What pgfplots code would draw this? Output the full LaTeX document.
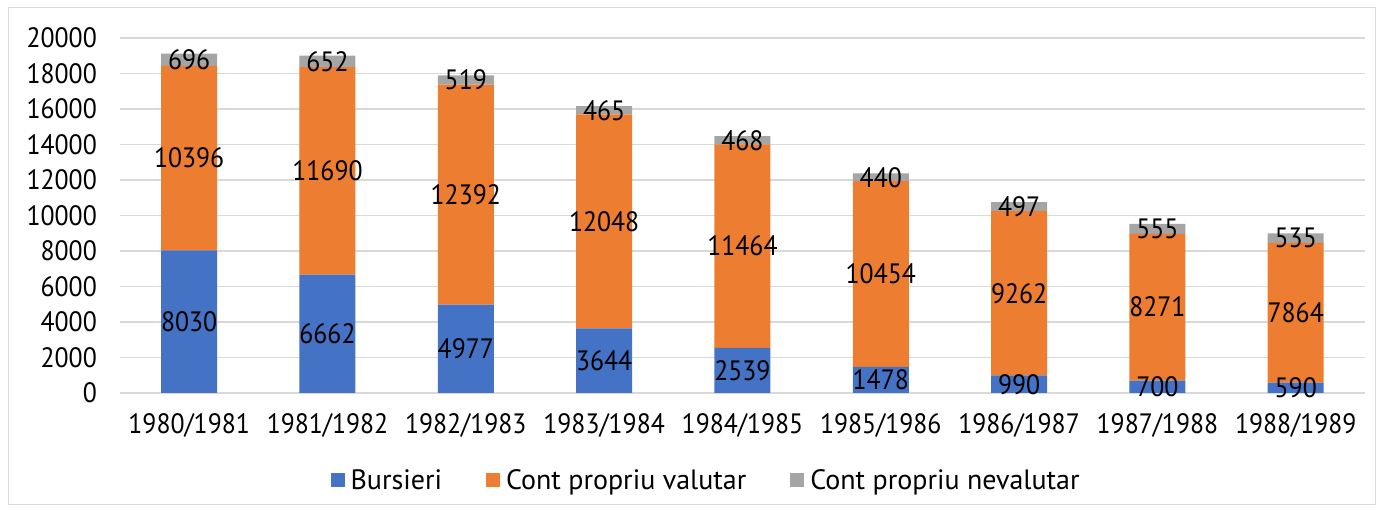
\documentclass[border=0pt]{standalone}
\usepackage{pgfplots}
\pgfplotsset{compat=1.18}
\usepackage{fontspec}
\setmainfont{PT Sans}
\newfontfamily\numfont[FakeStretch=0.92]{PT Sans}
\definecolor{cBlue}{HTML}{4472C4}
\definecolor{cOrange}{HTML}{ED7D31}
\definecolor{cGray}{HTML}{A5A5A5}
\definecolor{cGrid}{HTML}{D9D9D9}
\begin{document}
\begin{tikzpicture}
\useasboundingbox (-120pt,-120pt) rectangle (1262pt,393pt);
\fill[white] (-120pt,-120pt) rectangle (1262pt,393pt);
\draw[cGrid, line width=1pt] (-111pt,-112pt) rectangle (1255pt,385pt);
\begin{axis}[
  width=1245pt, height=355pt, scale only axis,
  ybar stacked, bar width=56pt,
  xmin=-0.5, xmax=8.5, ymin=0, ymax=20000,
  xtick={0,...,8},
  xticklabels={1980/1981,1981/1982,1982/1983,1983/1984,1984/1985,1985/1986,1986/1987,1987/1988,1988/1989},
  ytick={0,2000,...,20000},
  scaled y ticks=false,
  /pgf/number format/.cd, fixed, precision=0, 1000 sep={}, assume math mode=true,
  /pgfplots/.cd,
  ymajorgrids, grid style={cGrid, line width=1.2pt},
  axis line style={draw=none},
  major tick length=0pt,
  xticklabel style={anchor=center, inner sep=0pt, yshift=-32pt, font=\numfont\fontsize{28}{30}\selectfont},
  yticklabel style={anchor=east, inner sep=0pt, xshift=-23pt, font=\numfont\fontsize{28}{30}\selectfont},
  legend style={at={(0.47,-0.245)}, anchor=center, draw=none, fill=none,
    font=\fontsize{28}{30}\selectfont, legend columns=-1,
    nodes={inner sep=0pt},
    /tikz/every odd column/.append style={column sep=6pt},
    /tikz/every even column/.append style={column sep=44pt}},
  legend image code/.code={\fill[#1] (0pt,-7pt) rectangle (14pt,7pt);},
]
\addplot[fill=cBlue, draw=none] coordinates {(0,8030) (1,6662) (2,4977) (3,3644) (4,2539) (5,1478) (6,990) (7,700) (8,590)};
\addplot[fill=cOrange, draw=none] coordinates {(0,10396) (1,11690) (2,12392) (3,12048) (4,11464) (5,10454) (6,9262) (7,8271) (8,7864)};
\addplot[fill=cGray, draw=none] coordinates {(0,696) (1,652) (2,519) (3,465) (4,468) (5,440) (6,497) (7,555) (8,535)};
\legend{Bursieri, Cont propriu valutar, Cont propriu nevalutar}
\end{axis}
\begin{axis}[
  width=1245pt, height=355pt, scale only axis, hide axis,
  xmin=-0.5, xmax=8.5, ymin=0, ymax=20000,
  every node near coord/.append style={anchor=center, inner sep=0pt, font=\numfont\fontsize{28}{30}\selectfont, text=black},
]
\addplot[draw=none, mark=none, nodes near coords, point meta=explicit symbolic] table[meta=lab] {
x y lab
0 4015 8030
1 3331 6662
2 2488 4977
3 1822 3644
4 1270 2539
5 739 1478
6 495 990
7 350 700
8 295 590
};
\addplot[draw=none, mark=none, nodes near coords, point meta=explicit symbolic] table[meta=lab] {
x y lab
0 13228 10396
1 12507 11690
2 11173 12392
3 9668 12048
4 8271 11464
5 6705 10454
6 5621 9262
7 4836 8271
8 4522 7864
};
\addplot[draw=none, mark=none, nodes near coords, point meta=explicit symbolic] table[meta=lab] {
x y lab
0 18774 696
1 18678 652
2 17629 519
3 15925 465
4 14237 468
5 12152 440
6 10501 497
7 9249 555
8 8722 535
};
\end{axis}
\end{tikzpicture}
\end{document}
